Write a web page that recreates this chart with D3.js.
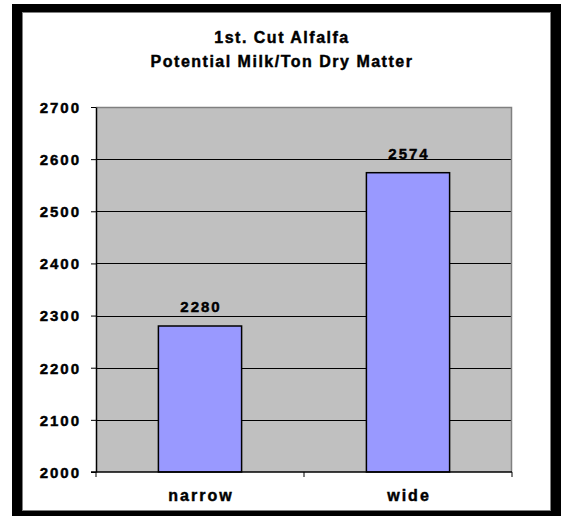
<!DOCTYPE html>
<html>
<head>
<meta charset="utf-8">
<script src="https://cdn.jsdelivr.net/npm/d3@7"></script>
<style>
  html, body { margin: 0; padding: 0; background: #fff; }
  svg { display: block; }
  text { font-family: "Liberation Sans", Arial, sans-serif; font-weight: bold; fill: #000; stroke: #000; stroke-width: 0.45px; }
</style>
</head>
<body>
<div id="chart"></div>
<script>
// Chart data
const categories = ["narrow", "wide"];
const milkPerTon = [2280, 2574];
const yTicks = [2000, 2100, 2200, 2300, 2400, 2500, 2600, 2700];
const titleLines = ["1st. Cut Alfalfa", "Potential Milk/Ton Dry Matter"];

const width = 561;
const height = 516;
const plot = { left: 96, right: 512, top: 107, bottom: 472 };

const svg = d3.select("#chart")
    .append("svg")
    .attr("width", width)
    .attr("height", height);

// Black frame and white chart area
svg.append("rect")
    .attr("x", 12).attr("y", 4)
    .attr("width", width - 12).attr("height", height - 4)
    .attr("fill", "#000");

svg.append("rect")
    .attr("x", 22.5).attr("y", 12.5)
    .attr("width", 528).attr("height", 498)
    .attr("fill", "#fff")
    .attr("stroke", "#808080")
    .attr("stroke-width", 1);

// Title
svg.selectAll(".title")
    .data(titleLines)
    .enter()
    .append("text")
    .attr("class", "title")
    .attr("x", 282)
    .attr("y", (d, i) => 43 + i * 24)
    .attr("text-anchor", "middle")
    .style("font-size", "16px")
    .style("letter-spacing", "1.5px")
    .text(d => d);

// Scales
const x = d3.scaleBand()
    .domain(categories)
    .range([plot.left, plot.right])
    .paddingInner(0.6)
    .paddingOuter(0.3);

const y = d3.scaleLinear()
    .domain([2000, 2700])
    .range([plot.bottom, plot.top]);

// Plot background
svg.append("rect")
    .attr("x", plot.left)
    .attr("y", plot.top)
    .attr("width", plot.right - plot.left)
    .attr("height", plot.bottom - plot.top)
    .attr("fill", "#c0c0c0");

// Gridlines
svg.selectAll(".grid")
    .data(yTicks.filter(t => t > 2000 && t < 2700))
    .enter()
    .append("line")
    .attr("x1", plot.left).attr("x2", plot.right)
    .attr("y1", d => Math.round(y(d)) + 0.5)
    .attr("y2", d => Math.round(y(d)) + 0.5)
    .attr("stroke", "#000")
    .attr("stroke-width", 1);

// Top and right plot border
svg.append("path")
    .attr("d", `M${plot.left},${plot.top + 0.5}H${plot.right - 0.5}V${plot.bottom}`)
    .attr("fill", "none")
    .attr("stroke", "#808080")
    .attr("stroke-width", 1.5);

// Bars
svg.selectAll(".bar")
    .data(categories)
    .enter()
    .append("rect")
    .attr("class", "bar")
    .attr("x", d => x(d))
    .attr("y", (d, i) => y(milkPerTon[i]))
    .attr("width", x.bandwidth())
    .attr("height", (d, i) => y(2000) - y(milkPerTon[i]))
    .attr("fill", "#9999ff")
    .attr("stroke", "#000")
    .attr("stroke-width", 1.5);

// Value labels
svg.selectAll(".value")
    .data(categories)
    .enter()
    .append("text")
    .attr("class", "value")
    .attr("x", d => x(d) + x.bandwidth() / 2 + 1)
    .attr("y", (d, i) => y(milkPerTon[i]) - 14)
    .attr("text-anchor", "middle")
    .style("font-size", "15px")
    .style("letter-spacing", "2px")
    .text((d, i) => milkPerTon[i]);

// Y axis
const yAxis = svg.append("g")
    .attr("transform", `translate(${plot.left},0)`)
    .call(d3.axisLeft(y)
        .tickValues(yTicks)
        .tickFormat(d3.format("d"))
        .tickSize(5)
        .tickSizeOuter(0)
        .tickPadding(10));

yAxis.attr("font-family", null).attr("font-size", null);
yAxis.select(".domain").attr("stroke", "#000").attr("stroke-width", 1.5);
yAxis.selectAll(".tick line").attr("stroke", "#000");
yAxis.selectAll(".tick text")
    .attr("dy", "0.36em")
    .attr("fill", "#000")
    .style("font-size", "15px")
    .style("letter-spacing", "2px");

// X axis line and category boundary ticks
svg.append("line")
    .attr("x1", plot.left - 5).attr("x2", plot.right)
    .attr("y1", plot.bottom).attr("y2", plot.bottom)
    .attr("stroke", "#000")
    .attr("stroke-width", 1.5);

svg.selectAll(".xtick")
    .data(d3.range(categories.length + 1))
    .enter()
    .append("line")
    .attr("x1", i => x.range()[0] + i * x.step())
    .attr("x2", i => x.range()[0] + i * x.step())
    .attr("y1", plot.bottom)
    .attr("y2", plot.bottom + 5)
    .attr("stroke", "#000");

// Category labels
svg.selectAll(".cat")
    .data(categories)
    .enter()
    .append("text")
    .attr("class", "cat")
    .attr("x", d => x(d) + x.bandwidth() / 2 + 1)
    .attr("y", 501)
    .attr("text-anchor", "middle")
    .style("font-size", "16px")
    .style("letter-spacing", "2px")
    .text(d => d);
</script>
</body>
</html>
